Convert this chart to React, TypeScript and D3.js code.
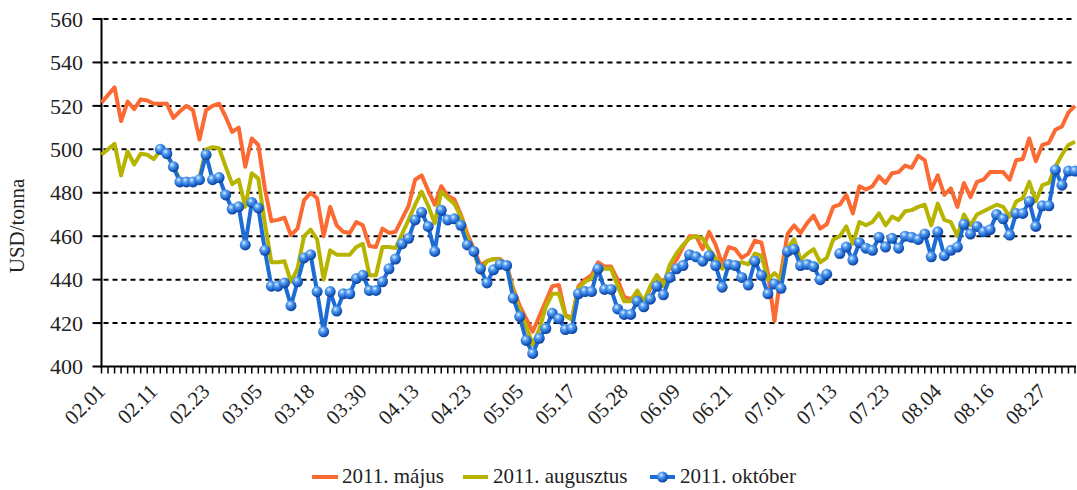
import React from 'react';
import * as d3 from 'd3';

const tickLabels = ['02.01','02.11','02.23','03.05','03.18','03.30','04.13','04.23','05.05','05.17','05.28','06.09','06.21','07.01','07.13','07.23','08.04','08.16','08.27'];
const labelEvery = 8;
const yTicks = [400, 420, 440, 460, 480, 500, 520, 540, 560];
const seriesNames = ['2011. május', '2011. augusztus', '2011. október'];

const may: number[] = [
  521.5,525,528.5,513,522,518.5,523,522.5,521,521,
  521,514.5,517.5,520,518,504.5,518,520,521,515,
  508,510,492,505,502,482,467,467.5,468.5,460.5,
  463.5,476.5,480,477.5,460,473.5,465,462,461.5,466.5,
  465,455.5,455,463.5,461.5,462,468,474,486,488,
  481,474.5,483,478.5,477,470,461,454,446.5,448.5,
  449.5,449.5,447,436,428,422,416,423,430,437,
  437.5,424,422,437,440,442,448,446,446,440,
  432,431,434,429,436,442,438,446,449,455,
  460,460,454,462,456,447,455,454,450,452,
  458,457,443,421,443,461,465,461.5,466,469.5,
  463.5,465.5,473.5,474.5,479,470.5,483,481.5,483,487.5,
  484.5,489,489.5,492.5,491.5,497,495,481.5,488,479,
  482,473.5,484.5,478,485,486,489.5,489.5,489.5,486,
  495,495.5,505,494.5,502,503,509,510.5,517,520
];

const aug: number[] = [
  497.5,500,502.5,488,499,493,498,497.5,495.5,499.5,
  497.5,492,486,486,486,487,500,501,500.5,492,
  484,486,473.5,489,486.5,466,448,448,448.5,439,
  445,460,463,458.5,440,453.5,451.5,451.5,451.5,455,
  456.5,442,442,455,455,454.5,461,467.5,474.5,480.5,
  474,466,480.5,477.5,475,469,459,453,443,448.5,
  449.5,449,447,434.5,426,418.5,410,417,427.5,433.5,
  433.5,423.5,421.5,436,439,440.5,446,445,445,437,
  430,430,435,430,437,442,437,447,452,456,
  459,460,459,454,450,445,447,447,448,447,
  452,451,440,443,440,454.5,458.5,449,452,454,
  448,450,458.5,460,464.5,456.5,466.5,465,466.5,470.5,
  465,469,467.5,471.5,472,473.5,474.5,465,475,467.5,
  466.5,460,470,465,470,471.5,473,474.5,473.5,469,
  476,477.5,485,476,483.5,484.5,492,497.5,502,503.5
];

const oct: (number | null)[] = [
  null,null,null,null,null,null,null,null,null,500,
  498,492,485,485,485,486,497.5,486,487,479,
  472.5,473.5,456,475.5,473,453.5,437,437,438.5,428,
  439,450,451.5,434.5,416,434.5,425.5,433.5,433.5,440.5,
  442,435,435,439,445,449.5,456.5,459,467.5,471,
  464.5,453,472,467.5,468,465,456,453,445,438.5,
  444.5,447,446.5,431.5,423,412,406,413,417.5,424.5,
  422,417,417.5,433.5,434.5,434.5,445,435.5,435.5,426.5,
  424,424,430,427.5,431,437,433,441,445,446.5,
  451.5,450.5,448.5,451,446.5,436.5,447,446.5,441,437.5,
  448.5,442,433.5,438,436,453,454,446.5,447,446,
  440,442.5,null,452,455,449,457,454.5,453.5,459.5,
  455,459,454.5,460,459.5,458.5,461,450.5,462,451,
  453.5,455,465.5,461,464.5,462,463,470,468,460.5,
  470.5,470.5,476,464.5,474,474,490.5,483.5,490,490
];

const ORANGE = '#FB6A33';
const YELLOW = '#B7B400';
const BLUE = '#1D6CD6';
const FONT = '"Liberation Serif", "Times New Roman", serif';

export default function App() {
  const W = 1077, H = 490;
  const N = may.length;
  const left = 101.5, right = 1075, top = 19, bottom = 366.5;
  const x = d3.scaleLinear().domain([0, N - 1]).range([left, right]);
  const y = d3.scaleLinear().domain([400, 560]).range([bottom, top]);
  const line = d3.line<number | null>()
    .defined(d => d != null)
    .x((_, i) => x(i))
    .y(d => y(d as number));

  const idx = d3.range(N);

  return (
    <svg width={W} height={H} style={{ position: 'absolute', left: 0, top: 0, display: 'block', background: '#fff' }}
      fontFamily={FONT}>
      <defs>
        <radialGradient id="ball" cx="38%" cy="32%" r="70%">
          <stop offset="0%" stopColor="#e4f1ff" />
          <stop offset="30%" stopColor="#5aa2f2" />
          <stop offset="75%" stopColor="#1a5fc8" />
          <stop offset="100%" stopColor="#0c3a8c" />
        </radialGradient>
      </defs>
      {yTicks.filter(t => t > 400).map(t => (
        <line key={'g' + t} x1={left + 2} x2={right} y1={y(t)} y2={y(t)}
          stroke="#000" strokeWidth={2} strokeDasharray="5,4" />
      ))}
      {yTicks.map(t => (
        <g key={'y' + t}>
          <line x1={left - 9} x2={left} y1={y(t)} y2={y(t)} stroke="#000" strokeWidth={2} />
          <text x={83} y={y(t)} dy="0.35em" textAnchor="end" fontSize={22} fill="#222">{t}</text>
        </g>
      ))}
      {idx.map(i => (
        <line key={'xt' + i} x1={x(i)} x2={x(i)} y1={bottom} y2={bottom + 7} stroke="#000" strokeWidth={1.5} />
      ))}
      <line x1={left} x2={left} y1={top - 1} y2={bottom + 1} stroke="#000" strokeWidth={2} />
      <line x1={left - 1} x2={right + 1} y1={bottom} y2={bottom} stroke="#000" strokeWidth={2} />
      {tickLabels.map((lab, k) => {
        const xi = x(k * labelEvery);
        return (
          <text key={'xl' + k} transform={`translate(${xi + 5},${bottom + 26}) rotate(-45)`}
            textAnchor="end" fontSize={21} fill="#222">{lab}</text>
        );
      })}
      <text transform={`translate(24,${226}) rotate(-90)`} textAnchor="middle" fontSize={21} fill="#222">USD/tonna</text>
      <path d={line(may) || ''} fill="none" stroke={ORANGE} strokeWidth={4} strokeLinejoin="round" />
      <path d={line(aug) || ''} fill="none" stroke={YELLOW} strokeWidth={4} strokeLinejoin="round" />
      <path d={line(oct) || ''} fill="none" stroke={BLUE} strokeWidth={4} strokeLinejoin="round" />
      {oct.map((v, i) => v == null ? null : (
        <circle key={'m' + i} cx={x(i)} cy={y(v)} r={5.5} fill="url(#ball)" />
      ))}
      <g fontSize={21} fill="#222">
        <line x1={312} x2={338} y1={477} y2={477} stroke={ORANGE} strokeWidth={4} />
        <text x={342} y={483}>{seriesNames[0]}</text>
        <line x1={463} x2={488} y1={477} y2={477} stroke={YELLOW} strokeWidth={4} />
        <text x={493} y={483}>{seriesNames[1]}</text>
        <line x1={650} x2={675} y1={477} y2={477} stroke={BLUE} strokeWidth={4} />
        <circle cx={662.5} cy={477} r={5.5} fill="url(#ball)" />
        <text x={680} y={483}>{seriesNames[2]}</text>
      </g>
    </svg>
  );
}
